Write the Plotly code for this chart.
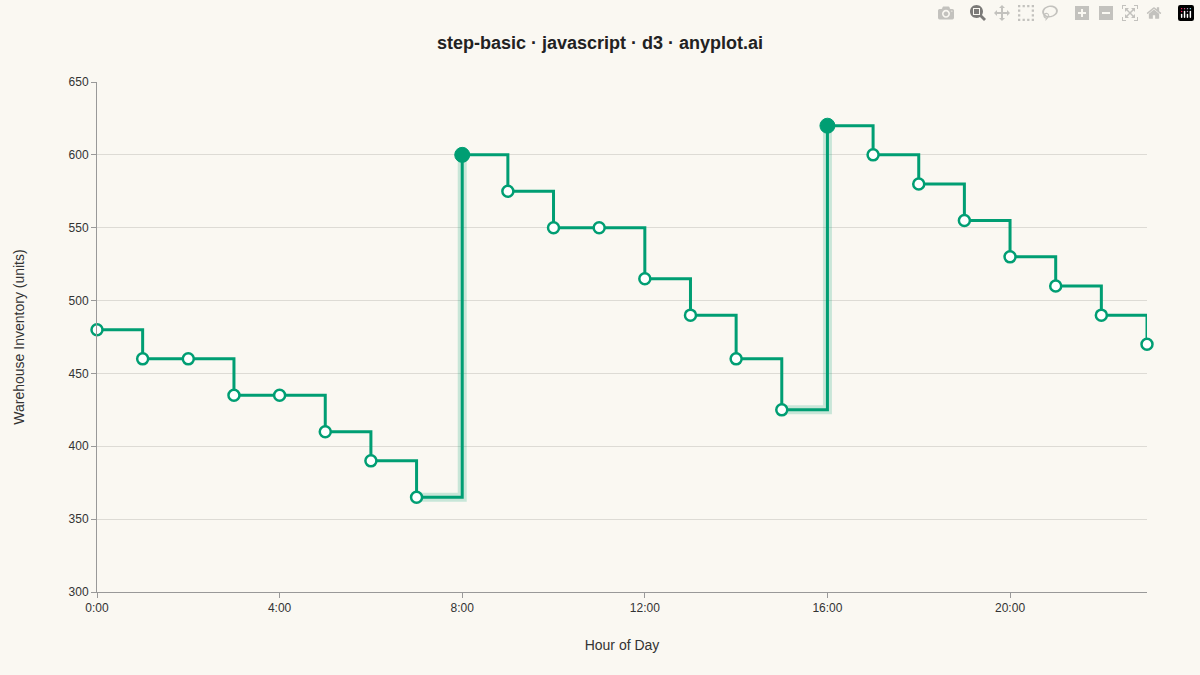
import plotly.graph_objects as go

hours = list(range(24))
inventory = [480, 460, 460, 435, 435, 410, 390, 365, 600, 575, 550, 550, 515, 490, 460, 425, 620, 600, 580, 555, 530, 510, 490, 470]
restock_hours = [8, 16]
tick_vals = [0, 4, 8, 12, 16, 20]
tick_text = ["0:00", "4:00", "8:00", "12:00", "16:00", "20:00"]

green = "#009E73"
fig = go.Figure()
for h in restock_hours:
    fig.add_trace(go.Scatter(x=[h - 1, h], y=[inventory[h - 1], inventory[h]], mode="lines",
                             line=dict(shape="hv", color="rgba(0,158,115,0.2)", width=9),
                             showlegend=False, hoverinfo="skip"))
fig.add_trace(go.Scatter(x=hours, y=inventory, mode="lines", line=dict(shape="hv", color=green, width=3),
                         showlegend=False))
normal = [h for h in hours if h not in restock_hours]
fig.add_trace(go.Scatter(x=normal, y=[inventory[h] for h in normal], mode="markers", cliponaxis=False,
                         marker=dict(size=11, color="white", line=dict(color=green, width=2.5)), showlegend=False))
fig.add_trace(go.Scatter(x=restock_hours, y=[inventory[h] for h in restock_hours], mode="markers", cliponaxis=False,
                         marker=dict(size=15, color=green, line=dict(color=green, width=1)), showlegend=False))

fig.update_layout(
    width=1200, height=675, paper_bgcolor="#FAF8F2", plot_bgcolor="#FAF8F2",
    margin=dict(l=97, r=53, t=82, b=83),
    title=dict(text="<b>step-basic · javascript · d3 · anyplot.ai</b>", x=0.5, y=0.946, xanchor="center",
               font=dict(family="Liberation Sans, Arial", size=18, color="#222")),
    font=dict(family="Liberation Sans, Arial", color="#333"),
    xaxis=dict(range=[0, 23], tickvals=tick_vals, ticktext=tick_text, showgrid=False, zeroline=False,
               showline=True, linecolor="#999", ticks="outside", ticklen=5, tickcolor="#999",
               tickfont=dict(size=12), title=dict(text="Hour of Day", font=dict(size=14), standoff=25)),
    yaxis=dict(range=[300, 650], dtick=50, gridcolor="#DDDBD5", zeroline=False, showline=True,
               linecolor="#999", ticks="outside", ticklen=5, tickcolor="#999", tickfont=dict(size=12),
               title=dict(text="Warehouse Inventory (units)", font=dict(size=14), standoff=40)),
)
fig.write_html("out.html", post_script="document.body.style.margin='0';document.body.style.background='#FAF8F2';")
